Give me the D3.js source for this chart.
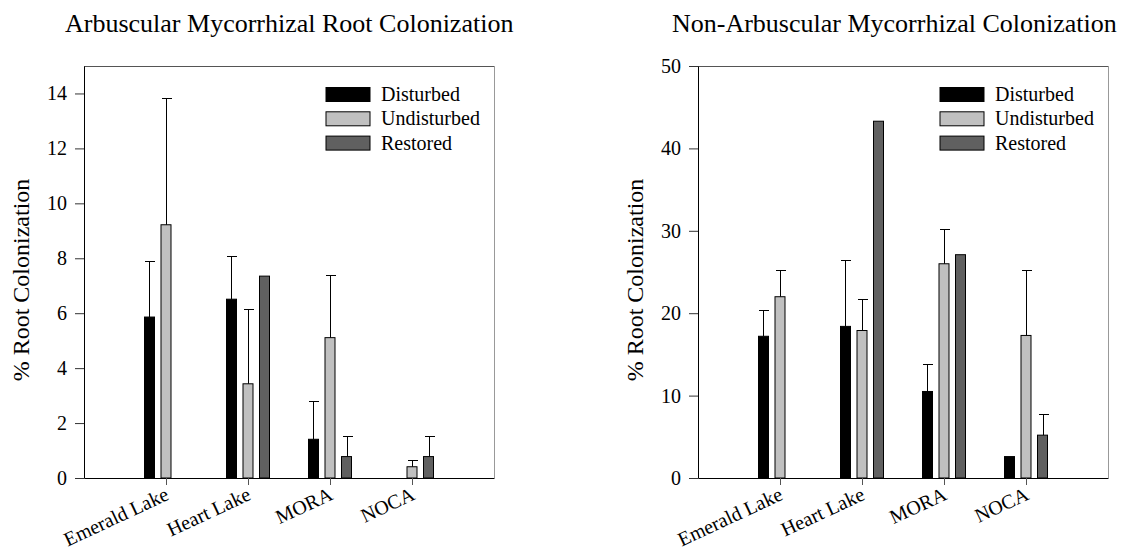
<!DOCTYPE html>
<html>
<head>
<meta charset="utf-8">
<script src="https://cdn.jsdelivr.net/npm/d3@7"></script>
<style>
  body { margin: 0; background: #fff; }
  svg text { font-family: "Liberation Serif", "Times New Roman", serif; fill: #000; }
</style>
</head>
<body>
<div id="chart"></div>
<script>
// categories
var sites = ["Emerald Lake", "Heart Lake", "MORA", "NOCA"];
var treatments = ["Disturbed", "Undisturbed", "Restored"];

// arbuscular mycorrhizal colonization (%), null = no bar / no error bar
var amDisturbed = [5.86, 6.51, 1.41, 0];
var amUndisturbed = [9.22, 3.43, 5.11, 0.41];
var amRestored = [null, 7.35, 0.78, 0.78];
var amDisturbedErr = [2.05, 1.56, 1.39, null];
var amUndisturbedErr = [4.60, 2.73, 2.27, 0.24];
var amRestoredErr = [null, null, 0.76, 0.76];
var amTicks = [0, 2, 4, 6, 8, 10, 12, 14];

// non-arbuscular mycorrhizal colonization (%)
var namDisturbed = [17.2, 18.4, 10.5, 2.6];
var namUndisturbed = [22.0, 17.9, 26.0, 17.3];
var namRestored = [null, 43.3, 27.1, 5.2];
var namDisturbedErr = [3.2, 8.0, 3.3, null];
var namUndisturbedErr = [3.3, 3.8, 4.2, 7.9];
var namRestoredErr = [null, null, null, 2.6];
var namTicks = [0, 10, 20, 30, 40, 50];

var colors = ["#000000", "#c0c0c0", "#606060"];

var width = 1144;
var height = 551;
var plotTop = 66;
var plotBottom = 478;

var svg = d3.select("#chart").append("svg")
    .attr("width", width)
    .attr("height", height);

drawPanel({
    left: 84, right: 494, yMax: 15, ticks: amTicks,
    title: "Arbuscular Mycorrhizal Root Colonization", titleX: 65,
    values: [amDisturbed, amUndisturbed, amRestored],
    errors: [amDisturbedErr, amUndisturbedErr, amRestoredErr]
});

drawPanel({
    left: 698, right: 1108, yMax: 50, ticks: namTicks,
    title: "Non-Arbuscular Mycorrhizal Colonization", titleX: 672,
    values: [namDisturbed, namUndisturbed, namRestored],
    errors: [namDisturbedErr, namUndisturbedErr, namRestoredErr]
});

function drawPanel(p) {
    var g = svg.append("g");

    var x = d3.scalePoint()
        .domain(sites)
        .range([p.left, p.right])
        .padding(1);

    var inner = d3.scaleBand()
        .domain(treatments)
        .range([-21.5, 21.5])
        .paddingInner(0.394);

    var y = d3.scaleLinear()
        .domain([0, p.yMax])
        .range([plotBottom, plotTop]);

    // frame (top + right edges)
    g.append("line")
        .attr("x1", p.left).attr("x2", p.right + 0.5)
        .attr("y1", y(p.yMax) + 0.5).attr("y2", y(p.yMax) + 0.5)
        .style("stroke", "#555");
    g.append("line")
        .attr("x1", p.right + 0.5).attr("x2", p.right + 0.5)
        .attr("y1", y(p.yMax)).attr("y2", y(0))
        .style("stroke", "#999");

    // bars + error bars
    treatments.forEach(function(t, k) {
        var rows = sites.map(function(s, i) {
            return { site: s, v: p.values[k][i], e: p.errors[k][i] };
        }).filter(function(d) { return d.v != null && d.v > 0; });

        g.selectAll(null)
            .data(rows)
            .enter().append("rect")
            .attr("x", function(d) { return x(d.site) + inner(t); })
            .attr("width", inner.bandwidth())
            .attr("y", function(d) { return y(d.v); })
            .attr("height", function(d) { return y(0) - y(d.v); })
            .style("fill", colors[k])
            .style("stroke", "#000")
            .style("stroke-width", 1);

        var withErr = rows.filter(function(d) { return d.e != null; });
        var cx = function(d) { return Math.round(x(d.site) + inner(t) + inner.bandwidth() / 2) + 0.5; };

        g.selectAll(null)
            .data(withErr)
            .enter().append("line")
            .attr("x1", cx).attr("x2", cx)
            .attr("y1", function(d) { return y(d.v); })
            .attr("y2", function(d) { return Math.round(y(d.v + d.e)) + 0.5; })
            .style("stroke", "#000");

        g.selectAll(null)
            .data(withErr)
            .enter().append("line")
            .attr("x1", function(d) { return cx(d) - 4.5; })
            .attr("x2", function(d) { return cx(d) + 5.5; })
            .attr("y1", function(d) { return Math.round(y(d.v + d.e)) + 0.5; })
            .attr("y2", function(d) { return Math.round(y(d.v + d.e)) + 0.5; })
            .style("stroke", "#000");
    });

    // y axis
    var yAxis = d3.axisLeft(y)
        .tickValues(p.ticks)
        .tickSize(9)
        .tickSizeOuter(0)
        .tickPadding(8);

    var ya = g.append("g")
        .attr("transform", "translate(" + p.left + ",0)")
        .call(yAxis);
    ya.select(".domain").style("stroke", "#000");
    ya.selectAll(".tick line").style("stroke", "#333");
    ya.selectAll("text")
        .style("font-size", "20px")
        .style("font-family", "'Liberation Serif', serif");

    // x axis
    var xAxis = d3.axisBottom(x)
        .tickSize(7)
        .tickSizeOuter(0)
        .tickFormat("");

    var xa = g.append("g")
        .attr("transform", "translate(0," + plotBottom + ")")
        .call(xAxis);
    xa.select(".domain").style("stroke", "#000");
    xa.selectAll(".tick line").style("stroke", "#555");

    g.selectAll(null)
        .data(sites)
        .enter().append("text")
        .attr("class", "x-label")
        .text(function(d) { return d; })
        .attr("text-anchor", "end")
        .style("font-size", "20px")
        .attr("transform", function(d) {
            return "translate(" + (x(d) + 4) + "," + (plotBottom + 21) + ") rotate(-25)";
        });

    // y title
    g.append("text")
        .text("% Root Colonization")
        .attr("text-anchor", "middle")
        .style("font-size", "24px")
        .attr("transform", "translate(" + (p.left - 55) + "," + 280 + ") rotate(-90)");

    // chart title
    g.append("text")
        .text(p.title)
        .attr("x", p.titleX)
        .attr("y", 32)
        .style("font-size", "26px");

    // legend
    var legend = g.selectAll(null)
        .data(treatments)
        .enter().append("g")
        .attr("transform", function(d, i) {
            return "translate(" + (p.left + 242) + "," + (87.5 + i * 24.3) + ")";
        });
    legend.append("rect")
        .attr("width", 44)
        .attr("height", 14)
        .style("fill", function(d, i) { return colors[i]; })
        .style("stroke", "#000");
    legend.append("text")
        .text(function(d) { return d; })
        .attr("x", 55)
        .attr("y", 13.5)
        .style("font-size", "20px");
}
</script>
</body>
</html>
